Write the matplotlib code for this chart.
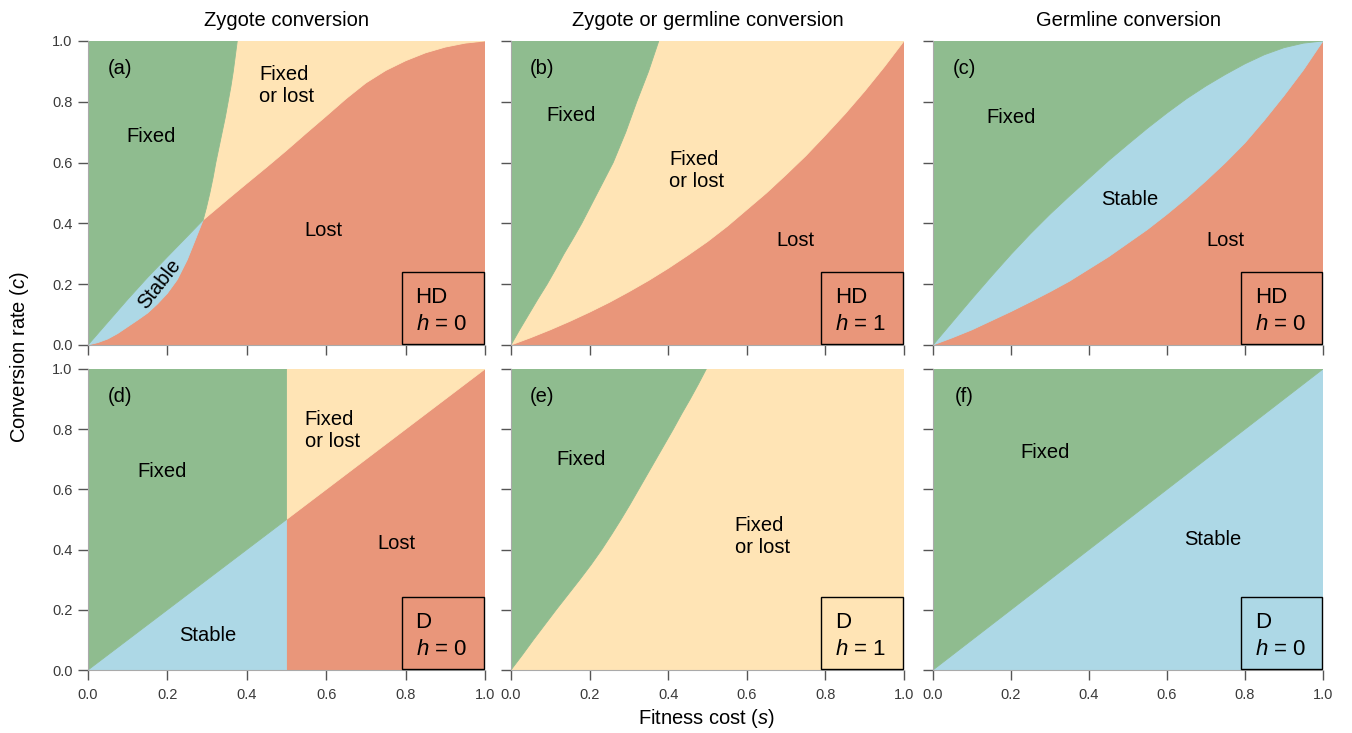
import matplotlib
matplotlib.use("Agg")
import matplotlib.pyplot as plt
from matplotlib.patches import Rectangle

plt.rcParams['font.family'] = ['Liberation Sans', 'DejaVu Sans']
plt.rcParams['mathtext.fontset'] = 'custom'
plt.rcParams['mathtext.it'] = 'Liberation Sans:italic'
plt.rcParams['mathtext.rm'] = 'Liberation Sans'

# colours (R names: darkseagreen, moccasin, lightblue, darksalmon)
GREEN = '#8FBC8F'
YELLOW = '#FFE4B5'
BLUE = '#ADD8E6'
RED = '#E9967A'

#### BOUNDARY CURVES (fitness cost s, conversion rate c)
# (a) zygote, HD, h=0
a_gb_s = [0, 0.05, 0.1, 0.15, 0.2, 0.25, 0.29]
a_gb_c = [0, 0.075, 0.15, 0.222, 0.29, 0.357, 0.411]
a_br_s = [0, 0.025, 0.05, 0.075, 0.1, 0.125, 0.15, 0.175, 0.2, 0.225, 0.25, 0.27, 0.29]
a_br_c = [0, 0.008, 0.02, 0.038, 0.06, 0.082, 0.105, 0.135, 0.17, 0.215, 0.28, 0.345, 0.411]
a_gy_s = [0.29, 0.298, 0.307, 0.315, 0.322, 0.33, 0.338, 0.346, 0.353, 0.36, 0.366, 0.371, 0.376]
a_gy_c = [0.411, 0.45, 0.5, 0.55, 0.6, 0.65, 0.7, 0.75, 0.8, 0.85, 0.9, 0.95, 1.0]
a_yr_s = [0.29, 0.31, 0.33, 0.36, 0.395, 0.45, 0.5, 0.55, 0.6, 0.65, 0.7, 0.75,
          0.8, 0.85, 0.9, 0.95, 1.0]
a_yr_c = [0.411, 0.433, 0.455, 0.488, 0.526, 0.585, 0.64, 0.697, 0.753, 0.81, 0.862, 0.903,
          0.935, 0.961, 0.98, 0.993, 1.0]

# (b) zygote or germline, HD, h=1
b_gy_s = [0, 0.022, 0.045, 0.068, 0.092, 0.114, 0.135, 0.158, 0.18, 0.2, 0.22,
          0.24, 0.26, 0.276, 0.292, 0.306, 0.32, 0.335, 0.35, 0.363, 0.376]
b_gy_c = [0, 0.05, 0.1, 0.15, 0.2, 0.25, 0.3, 0.35, 0.4, 0.45, 0.5,
          0.55, 0.6, 0.65, 0.7, 0.75, 0.8, 0.85, 0.9, 0.95, 1.0]
b_yr_s = [0, 0.05, 0.1, 0.15, 0.2, 0.25, 0.3, 0.35, 0.4, 0.45, 0.5,
          0.55, 0.6, 0.65, 0.7, 0.75, 0.8, 0.85, 0.9, 0.95, 1.0]
b_yr_c = [0, 0.024, 0.05, 0.078, 0.108, 0.14, 0.175, 0.212, 0.252, 0.295, 0.34,
          0.39, 0.445, 0.5, 0.56, 0.622, 0.69, 0.76, 0.835, 0.915, 1.0]

# (c) germline, HD, h=0
c_s = [0, 0.05, 0.1, 0.15, 0.2, 0.25, 0.3, 0.35, 0.4, 0.45, 0.5,
       0.55, 0.6, 0.65, 0.7, 0.75, 0.8, 0.85, 0.9, 0.95, 1.0]
c_gb_c = [0, 0.076, 0.152, 0.226, 0.298, 0.366, 0.43, 0.49, 0.548, 0.606, 0.66,
          0.713, 0.763, 0.81, 0.852, 0.89, 0.925, 0.955, 0.978, 0.993, 1.0]
c_br_c = [0, 0.024, 0.05, 0.08, 0.11, 0.142, 0.175, 0.21, 0.25, 0.29, 0.335,
          0.38, 0.43, 0.483, 0.54, 0.6, 0.665, 0.74, 0.82, 0.905, 1.0]

# (d) zygote, D, h=0
d_diag_s = [0, 0.5, 1.0]
d_diag_c = [0, 0.5, 1.0]
d_split = 0.5

# (e) zygote or germline, D, h=1
e_gy_s = [0, 0.029, 0.057, 0.086, 0.115, 0.145, 0.175, 0.204, 0.231, 0.256, 0.28,
          0.303, 0.325, 0.347, 0.369, 0.391, 0.413, 0.434, 0.456, 0.477, 0.497]
e_gy_c = [0, 0.05, 0.1, 0.15, 0.2, 0.25, 0.3, 0.35, 0.4, 0.45, 0.5,
          0.55, 0.6, 0.65, 0.7, 0.75, 0.8, 0.85, 0.9, 0.95, 1.0]

# (f) germline, D, h=0
f_diag_s = [0, 1.0]
f_diag_c = [0, 1.0]

col_titles = ["Zygote conversion", "Zygote or germline conversion", "Germline conversion"]
panel_tags = ["(a)", "(b)", "(c)", "(d)", "(e)", "(f)"]
box_top = ["HD", "HD", "HD", "D", "D", "D"]
box_h = ["0", "1", "0", "0", "1", "0"]
ticks = [0.0, 0.2, 0.4, 0.6, 0.8, 1.0]
tick_labels = ["0.0", "0.2", "0.4", "0.6", "0.8", "1.0"]

# region labels: (text, s, c, rotation)
region_labels = [
    [("Fixed", 0.16, 0.685, 0), ("Fixed\nor lost", 0.50, 0.855, 0),
     ("Lost", 0.594, 0.376, 0), ("Stable", 0.18, 0.20, 52)],
    [("Fixed", 0.153, 0.756, 0), ("Fixed\nor lost", 0.473, 0.574, 0),
     ("Lost", 0.723, 0.343, 0)],
    [("Fixed", 0.20, 0.747, 0), ("Stable", 0.505, 0.48, 0),
     ("Lost", 0.749, 0.345, 0)],
    [("Fixed", 0.186, 0.661, 0), ("Fixed\nor lost", 0.615, 0.797, 0),
     ("Lost", 0.778, 0.419, 0), ("Stable", 0.302, 0.113, 0)],
    [("Fixed", 0.178, 0.698, 0), ("Fixed\nor lost", 0.639, 0.445, 0)],
    [("Fixed", 0.287, 0.721, 0), ("Stable", 0.718, 0.435, 0)],
]

W, H = 1352, 733
fig = plt.figure(figsize=(W / 100, H / 100), dpi=100)

col_x = [(88, 397), (511, 393), (933, 390)]
row_y = [(41, 304), (369, 301)]


def region(ax, xs, ys, color):
    ax.fill(xs, ys, facecolor=color, edgecolor=color, linewidth=0.6)


axes = []
for r in range(2):
    for k in range(3):
        x0, w = col_x[k]
        y0, h = row_y[r]
        ax = fig.add_axes([x0 / W, 1 - (y0 + h) / H, w / W, h / H])
        axes.append(ax)

# (a)
ax = axes[0]
region(ax, a_br_s + a_yr_s[1:] + [1], a_br_c + a_yr_c[1:] + [0], RED)
region(ax, a_gb_s + a_br_s[::-1], a_gb_c + a_br_c[::-1], BLUE)
region(ax, a_gy_s + [1] + a_yr_s[::-1], a_gy_c + [1] + a_yr_c[::-1], YELLOW)
region(ax, a_gb_s + a_gy_s[1:] + [0], a_gb_c + a_gy_c[1:] + [1], GREEN)

# (b)
ax = axes[1]
region(ax, b_yr_s + [1], b_yr_c + [0], RED)
region(ax, b_gy_s + b_yr_s[::-1], b_gy_c + b_yr_c[::-1], YELLOW)
region(ax, b_gy_s + [0], b_gy_c + [1], GREEN)

# (c)
ax = axes[2]
region(ax, c_s + [1], c_br_c + [0], RED)
region(ax, c_s + c_s[::-1], c_gb_c + c_br_c[::-1], BLUE)
region(ax, c_s + [0], c_gb_c + [1], GREEN)

# (d)
ax = axes[3]
region(ax, [d_split, 1] + d_diag_s[::-1][:2], [0, 0] + d_diag_c[::-1][:2], RED)
region(ax, d_diag_s[:2] + [d_split], d_diag_c[:2] + [0], BLUE)
region(ax, d_diag_s[1:] + [d_split], d_diag_c[1:] + [1], YELLOW)
region(ax, d_diag_s[:2] + [d_split, 0], d_diag_c[:2] + [1, 1], GREEN)

# (e)
ax = axes[4]
region(ax, e_gy_s + [1, 1], e_gy_c + [1, 0], YELLOW)
region(ax, e_gy_s + [0], e_gy_c + [1], GREEN)

# (f)
ax = axes[5]
region(ax, f_diag_s + [1], f_diag_c + [0], BLUE)
region(ax, f_diag_s + [0], f_diag_c + [1], GREEN)

for i, ax in enumerate(axes):
    r, k = divmod(i, 3)
    ax.set_xlim(0, 1)
    ax.set_ylim(0, 1)
    ax.set_xticks(ticks)
    ax.set_yticks(ticks)
    ax.set_xticklabels(tick_labels if r == 1 else [])
    ax.set_yticklabels(tick_labels if k == 0 else [])
    ax.tick_params(direction='out', length=7, width=1, color='#555555',
                   labelcolor='#3a3a3a', labelsize=10.5, pad=4)
    ax.tick_params(axis='x', pad=6)
    for side in ['top', 'right']:
        ax.spines[side].set_visible(False)
    for side in ['left', 'bottom']:
        ax.spines[side].set_color('#aaaaaa')
        ax.spines[side].set_linewidth(0.8)

    ax.text(0.08, 0.91, panel_tags[i], transform=ax.transAxes,
            ha='center', va='center', fontsize=14.5)

    for txt, sx, cy, rot in region_labels[i]:
        ax.text(sx, cy, txt, ha='center', va='center', fontsize=14.5,
                rotation=rot, multialignment='left', linespacing=1.2)

    bh = 72 / row_y[r][1]
    ax.add_patch(Rectangle((0.79, 0.002), 0.207, bh, transform=ax.transAxes,
                           fill=False, edgecolor='black', linewidth=1.0,
                           clip_on=False, zorder=5))
    ax.text(0.825, bh * 0.66, box_top[i], transform=ax.transAxes,
            ha='left', va='center', fontsize=16)
    ax.text(0.825, bh * 0.29, r"$h$ = " + box_h[i], transform=ax.transAxes,
            ha='left', va='center', fontsize=16)

for k, title in enumerate(col_titles):
    x0, w = col_x[k]
    fig.text((x0 + w / 2) / W, 1 - 20 / H, title, ha='center', va='center',
             fontsize=14.5)

fig.text(20 / W, 1 - 357 / H, r"Conversion rate ($c$)", rotation=90,
         ha='center', va='center', fontsize=14.5)
fig.text(707 / W, 1 - 719 / H, r"Fitness cost ($s$)", ha='center',
         va='center', fontsize=14.5)

fig.savefig("out.png", dpi=100)
